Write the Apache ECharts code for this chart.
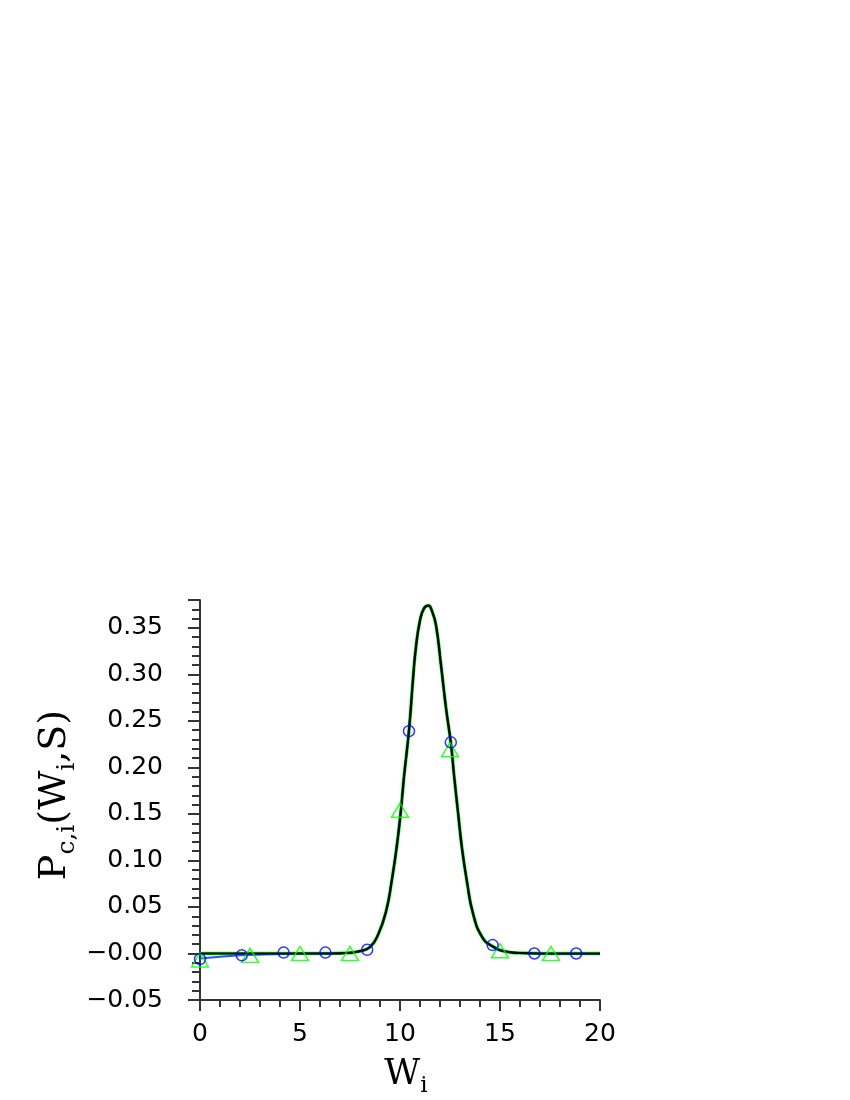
<!DOCTYPE html>
<html lang="en">
<head>
    <meta charset="UTF-8"/>
    <title>Pc,i(Wi,S)</title>
    <script src="https://cdn.jsdelivr.net/npm/echarts@6/dist/echarts.min.js"></script>
</head>
<body style="margin:0; background:#fff">

<div id="main" style="width:850px; height:1100px;"></div>
<script type="text/javascript">

    // blue circles
    var circleW = [0, 2.09, 4.18, 6.27, 8.36, 10.45, 12.54, 14.63, 16.72, 18.81];
    var circleP = [-0.006, -0.002, 0.001, 0.001, 0.004, 0.239, 0.227, 0.009, 0.000, 0.000];

    // green triangles
    var triW = [0, 2.5, 5.0, 7.5, 10.0, 12.5, 15.0, 17.55];
    var triP = [-0.007, -0.002, 0.000, 0.000, 0.154, 0.219, 0.003, 0.000];

    // fitted curve (black / green)
    var fitW = [0, 2, 4, 6, 7, 7.5, 8, 8.5, 8.9, 9.3, 9.6, 9.85, 10.05, 10.2, 10.45, 10.65, 10.8,
                11.0, 11.2, 11.42, 11.6, 11.8, 12.05, 12.3, 12.55, 12.7, 12.9, 13.1, 13.35, 13.65,
                14.1, 14.6, 15.3, 16, 17, 18, 19, 20];
    var fitP = [0, 0, 0, 0, 0.0002, 0.0008, 0.0025, 0.007, 0.02, 0.045, 0.08, 0.117, 0.155, 0.19,
                0.24, 0.295, 0.33, 0.358, 0.371, 0.374, 0.368, 0.353, 0.31, 0.264, 0.225, 0.192,
                0.152, 0.113, 0.077, 0.043, 0.018, 0.008, 0.002, 0.0005, 0, 0, 0, 0];

    // blue curve, only differs on the tails
    var blueW = fitW;
    var blueP = [-0.0055, -0.002, -0.0005, 0, 0.0002, 0.0008, 0.0025, 0.007, 0.02, 0.045, 0.08, 0.117,
                 0.155, 0.19, 0.24, 0.295, 0.33, 0.358, 0.371, 0.374, 0.368, 0.353, 0.31, 0.264, 0.225,
                 0.192, 0.152, 0.113, 0.077, 0.043, 0.018, 0.008, 0.002, 0.0005, -0.0003, -0.0005, -0.0005, -0.0005];

    function pairs(xs, ys) {
        var out = [];
        for (var i = 0; i < xs.length; i++) out.push([xs[i], ys[i]]);
        return out;
    }

    var axisColor = '#333';
    var labelFont = {color: '#000', fontFamily: 'DejaVu Sans', fontSize: 25};
    var serif = 'DejaVu Serif';

    var myChart = echarts.init(document.getElementById('main'));

    var option = {
        animation: false,
        grid: {left: 200, top: 600, width: 400, height: 400},
        xAxis: {
            type: 'value',
            min: 0, max: 20, interval: 5,
            name: '{m|W}{s|i}',
            nameLocation: 'middle',
            nameGap: 52,
            nameTextStyle: {
                padding: [0, 0, 0, 12],
                rich: {
                    m: {fontFamily: serif, fontSize: 35, lineHeight: 46, color: '#000'},
                    s: {fontFamily: serif, fontSize: 23, verticalAlign: 'bottom', color: '#000'}
                }
            },
            axisLine: {onZero: false, lineStyle: {color: axisColor, width: 2}},
            axisTick: {inside: false, length: 11, lineStyle: {color: axisColor, width: 2}},
            minorTick: {show: true, splitNumber: 5, length: 7, lineStyle: {color: axisColor, width: 2}},
            axisLabel: Object.assign({margin: 22}, labelFont),
            splitLine: {show: false}
        },
        yAxis: {
            type: 'value',
            min: -0.05, max: 0.38, interval: 0.05,
            name: '{m|P}{s|c,i}{m|(W}{s|i}{m|,S)}',
            nameLocation: 'middle',
            nameRotate: 90,
            nameGap: 120,
            nameTextStyle: {
                padding: [0, 0, 0, 10],
                rich: {
                    m: {fontFamily: serif, fontSize: 38, lineHeight: 50, color: '#000'},
                    s: {fontFamily: serif, fontSize: 25, verticalAlign: 'bottom', color: '#000'}
                }
            },
            axisLine: {onZero: false, lineStyle: {color: axisColor, width: 2}},
            axisTick: {inside: false, length: 12, lineStyle: {color: axisColor, width: 2}},
            minorTick: {show: true, splitNumber: 5, length: 8, lineStyle: {color: axisColor, width: 2}},
            axisLabel: Object.assign({
                margin: 37,
                showMaxLabel: false,
                formatter: function (v) {
                    if (Math.abs(v) < 1e-9) return '\u22120.00';
                    return (v < 0 ? '\u2212' : '') + Math.abs(v).toFixed(2);
                }
            }, labelFont),
            splitLine: {show: false}
        },
        series: [
            {
                type: 'line', data: pairs(fitW, fitP), smooth: true,
                showSymbol: false, lineStyle: {color: '#00ff00', width: 3.5}, z: 1
            },
            {
                type: 'line', data: pairs(blueW, blueP), smooth: true,
                showSymbol: false, lineStyle: {color: '#3050ff', width: 2}, z: 2
            },
            {
                type: 'line', data: pairs(fitW, fitP), smooth: true,
                showSymbol: false, lineStyle: {color: '#000', width: 2.2}, z: 3
            },
            {
                type: 'scatter', data: pairs(triW, triP), symbol: 'triangle', symbolSize: [17, 14],
                itemStyle: {color: 'transparent', borderColor: '#00ff00', borderWidth: 1.5}, z: 4
            },
            {
                type: 'scatter', data: pairs(circleW, circleP), symbol: 'circle', symbolSize: 11,
                itemStyle: {color: 'transparent', borderColor: '#0000ff', borderWidth: 1.5}, z: 5
            }
        ]
    };

    myChart.setOption(option);
</script>

</body>
</html>
